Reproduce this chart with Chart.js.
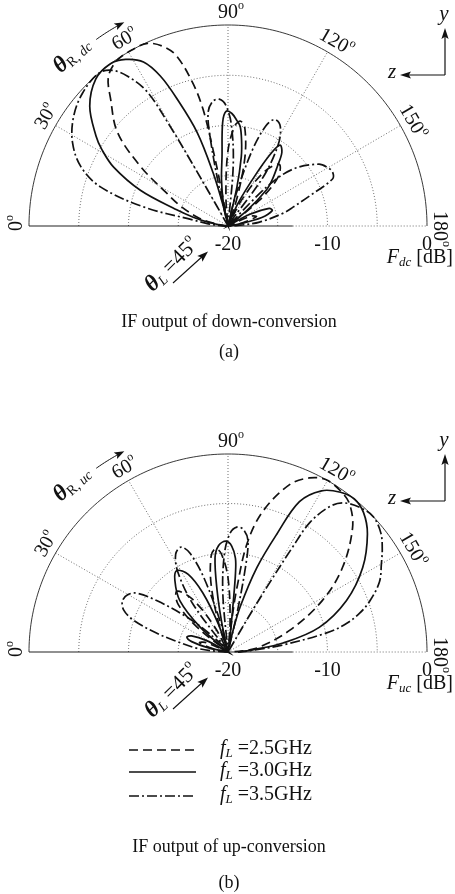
<!DOCTYPE html>
<html>
<head>
<meta charset="utf-8">
<script src="https://cdn.jsdelivr.net/npm/chart.js@4/dist/chart.umd.min.js"></script>
<style>
  html, body { margin: 0; padding: 0; background: #fff; width: 455px; height: 894px; overflow: hidden; }
  canvas { position: absolute; left: 0; }
</style>
</head>
<body>
<canvas id="dc" width="455" height="370" style="top:0px"></canvas>
<canvas id="uc" width="455" height="524" style="top:370px"></canvas>
<script>
// Polar axes: angle in degrees (0° at left, 180° at right), gain in dB (-20 dB at the centre)
const angleTicks = [0, 30, 60, 90, 120, 150, 180];
const gainTicks = [-20, -10, 0];
const ringLevels = [-15, -10, -5, 0];
const freqLabels = ['2.5GHz', '3.0GHz', '3.5GHz'];

// (a) IF output of down-conversion
const dc25Angle = [0, 8, 12, 16, 22, 28, 34, 40, 47, 51, 56, 62, 66, 70, 73, 76, 77.8, 78.8, 79.5, 80.5, 82, 86, 90, 94, 97, 100, 104, 108, 111, 112, 118, 124, 130, 136, 141, 146, 150, 157, 162, 168, 175, 180];
const dc25Gain  = [-20, -19.5, -18, -16.8, -15, -13, -9.4, -5.5, -2.7, -0.9, -0.1, 0, -0.1, -1.0, -2.3, -5.3, -8.1, -12.3, -16, -20, -20, -17, -12.5, -10, -9.5, -10.2, -13, -17, -20, -20, -17, -13.5, -12, -13, -16, -20, -20, -17.5, -17, -18.5, -20, -20];

const dc30Angle = [0, 5, 10.8, 14, 17.4, 22, 27, 31, 34, 40.6, 47.7, 53.8, 58.2, 62.5, 65.5, 68, 71.6, 74.2, 76.5, 78, 79, 82, 85, 87, 89, 92, 95, 97, 99, 101, 103, 105, 110, 114, 118.7, 121, 123, 126.5, 130, 134, 137, 141, 144, 146, 152, 157, 161, 166, 171, 174, 180];
const dc30Gain  = [-20, -19.5, -17.9, -16.4, -14.6, -10.5, -7.1, -5.2, -4.0, -1.7, -0.25, 0, -0.5, -1.6, -3.6, -6.4, -10.2, -14.5, -18, -20, -17.4, -15.3, -13.1, -9.7, -8.6, -8.8, -9.5, -10, -11.3, -13, -16, -20, -20, -17.5, -14, -11.5, -10.4, -10.9, -12.3, -13.6, -14.7, -17.5, -20, -20, -17.5, -15.5, -15.3, -16.5, -19, -20, -20];

const dc35Angle = [0, 4, 7, 9.7, 12.6, 16.9, 21.7, 28, 35, 42, 49.4, 53, 55.9, 58.7, 59.6, 60, 60.5, 61.5, 74, 77, 78.5, 80, 83, 86, 89, 92, 95, 98, 100, 104, 108, 111, 114, 118, 122, 126, 130, 135, 139, 146, 150, 153, 156, 160, 164, 167, 173, 177, 180];
const dc35Gain  = [-20, -19, -17.8, -16.4, -11.3, -6.6, -4.1, -2.3, -1.05, -0.3, 0, -0.6, -2, -4.4, -8.5, -13, -17.8, -20, -20, -16, -11, -8.5, -7.5, -7.35, -8, -10, -14, -20, -20, -17, -12, -9.3, -8.4, -8.8, -10.5, -14, -20, -14.5, -11.4, -9, -8.4, -8.2, -8.5, -11.3, -13.2, -14.3, -16.8, -19, -20];

// (b) IF output of up-conversion
const uc25Angle = [0, 5, 12, 18, 23, 30, 34, 39, 44, 50, 56, 62, 68, 69, 72, 76, 80, 83, 86, 90, 94, 95.5, 96.8, 97.9, 99.9, 103.8, 110.1, 115, 119.6, 125, 129.3, 135, 143.5, 151.3, 160.5, 171, 176, 180];
const uc25Gain  = [-20, -20, -18.5, -17, -17.5, -20, -20, -16, -13, -12, -13.5, -17, -20, -20, -17, -13, -10.2, -9.5, -10, -12.5, -17, -20, -16.5, -13.4, -8.9, -5.4, -2, -0.6, 0, -0.2, -0.7, -2.3, -5.7, -9.2, -13.4, -16.8, -18.5, -20];

const uc30Angle = [0, 8, 12, 16, 20, 24, 28, 33, 38, 42, 47, 53.6, 58, 63, 67, 71, 74, 76, 78, 80, 82.2, 85, 89, 92, 94.5, 95.4, 96, 97, 98, 101, 103, 105, 108.8, 112.4, 115.3, 120, 125, 129.4, 134, 139.6, 147.8, 156.4, 164.8, 170.7, 175, 180];
const uc30Gain  = [-20, -20, -18, -16.2, -15.6, -16, -17.5, -20, -20, -16.2, -12.9, -11, -10.3, -11.2, -13.5, -17, -20, -20, -17, -13.7, -10.4, -9.2, -8.8, -9.3, -10.5, -12, -15, -18, -20, -20, -18, -15.3, -11, -7.1, -3.2, -1.2, -0.3, 0, -0.4, -1.6, -4, -7, -10.5, -14.4, -17.5, -19];

const uc35Angle = [0, 3, 7, 12.3, 15, 18.6, 22, 26, 30, 33, 36, 40.5, 45, 50, 54, 58, 62, 66, 69, 72, 76, 80, 82, 85, 88, 91, 94, 97, 100, 101.5, 103, 106, 119.8, 120.3, 120.8, 121.5, 122.2, 125, 128, 133, 137, 142, 146, 150, 155, 160, 163.5, 166.5, 169, 172.7, 176, 180];
const uc35Gain  = [-20, -19, -16.8, -14.4, -12.5, -10, -8.7, -8.2, -8.4, -9.1, -11.2, -14.6, -17.5, -20, -14, -10.5, -8.8, -8.4, -9.3, -12, -17, -20, -20, -14, -10, -8, -7.35, -7.5, -8.5, -11, -16, -20, -20, -16, -12.4, -7.6, -4.5, -2, -0.9, -0.2, 0, -0.5, -1.3, -2.2, -3.2, -4.8, -6.2, -7.8, -9.9, -14.5, -17.5, -19];

const FLOOR = gainTicks[0];
const RMAX = gainTicks[gainTicks.length - 1] - FLOOR;
const D = Math.PI / 180;
const SERIF = '"Liberation Serif", "Times New Roman", serif';
const INK = '#111';
const lineDashes = [[9, 5], [], [10, 3, 2, 3]];

// (angle, dB) -> cartesian values in the scatter scales (radius = dB above the floor)
function toPoints(angles, gains) {
  return angles.map((a, i) => {
    const r = Math.max(0, gains[i] - FLOOR);
    return { x: -r * Math.cos(a * D), y: r * Math.sin(a * D) };
  });
}

function fontOf(size, style) { return (style || '') + ' ' + size + 'px ' + SERIF; }

// draws a run of differently styled pieces (sub/superscripts) as one label
function drawRich(ctx, x, y, rot, parts, anchor) {
  ctx.save();
  ctx.translate(x, y);
  ctx.rotate(rot * D);
  ctx.textBaseline = 'middle';
  ctx.textAlign = 'left';
  ctx.fillStyle = INK;
  let total = 0;
  const widths = parts.map(p => { ctx.font = fontOf(p.size, p.style); const w = ctx.measureText(p.t).width; total += w; return w; });
  let cx = anchor === 'first' ? -widths[0] / 2 : -total * anchor;
  parts.forEach((p, i) => {
    ctx.font = fontOf(p.size, p.style);
    ctx.fillText(p.t, cx, p.dy || 0);
    cx += widths[i];
  });
  ctx.restore();
}

function arrowHead(ctx, tx, ty, dx, dy, len, half) {
  const n = Math.hypot(dx, dy); dx /= n; dy /= n;
  ctx.beginPath();
  ctx.moveTo(tx, ty);
  ctx.lineTo(tx - dx * len - dy * half, ty - dy * len + dx * half);
  ctx.lineTo(tx - dx * len * 0.8, ty - dy * len * 0.8);
  ctx.lineTo(tx - dx * len + dy * half, ty - dy * len - dx * half);
  ctx.closePath();
  ctx.fill();
}

function polarOf(chart) {
  const xs = chart.scales.x, ys = chart.scales.y;
  return (a, r) => ({ x: xs.getPixelForValue(-r * Math.cos(a * D)), y: ys.getPixelForValue(r * Math.sin(a * D)) });
}

const polarGrid = {
  id: 'polarGrid',
  beforeDatasetsDraw(chart) {
    const ctx = chart.ctx, P = polarOf(chart);
    ctx.save();
    ctx.lineWidth = 0.85;
    ctx.strokeStyle = '#555';
    ctx.setLineDash([1, 2]);
    ringLevels.forEach(g => {
      const r = g - FLOOR;
      if (r >= RMAX) return;
      ctx.beginPath();
      for (let a = 0; a <= 180; a += 2) { const p = P(a, r); if (a === 0) ctx.moveTo(p.x, p.y); else ctx.lineTo(p.x, p.y); }
      ctx.stroke();
    });
    angleTicks.forEach(a => {
      if (a === 0 || a === 180) return;
      const o = P(a, 0), e = P(a, RMAX);
      ctx.beginPath(); ctx.moveTo(o.x, o.y); ctx.lineTo(e.x, e.y); ctx.stroke();
    });
    // right part of the base line is dotted
    const b0 = P(180, 6.5), b1 = P(180, RMAX);
    ctx.beginPath(); ctx.moveTo(b0.x, b0.y); ctx.lineTo(b1.x, b1.y); ctx.stroke();
    ctx.setLineDash([]);
    ctx.strokeStyle = '#222';
    ctx.lineWidth = 0.9;
    ctx.beginPath();
    for (let a = 0; a <= 180; a += 1) { const p = P(a, RMAX); if (a === 0) ctx.moveTo(p.x, p.y); else ctx.lineTo(p.x, p.y); }
    ctx.stroke();
    ctx.lineWidth = 1.1;
    const l0 = P(0, RMAX);
    ctx.beginPath(); ctx.moveTo(l0.x, l0.y); ctx.lineTo(b0.x, b0.y); ctx.stroke();
    ctx.restore();
  }
};

const polarLabels = {
  id: 'polarLabels',
  afterDraw(chart, args, o) {
    const ctx = chart.ctx, P = polarOf(chart);
    const C = P(0, 0);
    ctx.save();
    ctx.fillStyle = INK;
    ctx.strokeStyle = INK;
    // angle labels
    angleTicks.forEach(a => {
      const p = P(a, 21.25);
      drawRich(ctx, p.x, p.y, a - 90, [{ t: String(a), size: 20 }, { t: 'o', size: 12, dy: -7 }], 'first');
    });
    // gain labels along the base line
    gainTicks.forEach(g => {
      const p = P(180, g - FLOOR);
      drawRich(ctx, p.x, C.y + 19, 0, [{ t: String(g), size: 20 }], 0.5);
    });
    // F [dB]
    drawRich(ctx, 453, C.y + 32, 0, [
      { t: 'F', style: 'italic', size: 20 },
      { t: o.sub, style: 'italic', size: 13, dy: 5 },
      { t: ' [dB]', size: 20 }
    ], 1);
    // theta_R label with arc arrow
    const tp = P(47.3, 23.1);
    drawRich(ctx, tp.x, tp.y, -42.5, [
      { t: 'θ', style: 'bold italic', size: 23 },
      { t: 'R', size: 14, dy: 5 },
      { t: ', ', size: 14, dy: 5 },
      { t: o.sub, style: 'italic', size: 14, dy: 5 }
    ], 0.5);
    ctx.lineWidth = 1;
    ctx.beginPath();
    for (let a = 54.5; a <= 61.01; a += 0.5) { const p = P(a, 22.8); if (a === 54.5) ctx.moveTo(p.x, p.y); else ctx.lineTo(p.x, p.y); }
    ctx.stroke();
    const tip = P(62.8, 22.8);
    arrowHead(ctx, tip.x, tip.y, Math.sin(62.8 * D), -Math.cos(62.8 * D), 10, 3.6);
    // theta_L = 45 deg arrow
    drawRich(ctx, C.x - 56, C.y + 39, -45, [
      { t: 'θ', style: 'bold italic', size: 23 },
      { t: 'L', style: 'italic', size: 14, dy: 5 },
      { t: ' =45', size: 22 },
      { t: 'o', size: 13, dy: -8 }
    ], 0.5);
    ctx.lineWidth = 1.1;
    ctx.beginPath(); ctx.moveTo(C.x - 55, C.y + 57); ctx.lineTo(C.x - 24, C.y + 29); ctx.stroke();
    arrowHead(ctx, C.x - 20, C.y + 25.5, 34, -31, 11, 3.8);
    // y / z axes
    const K = { x: C.x + 217, y: C.y - 151 };
    ctx.lineWidth = 1.2;
    ctx.beginPath(); ctx.moveTo(K.x, K.y); ctx.lineTo(K.x, K.y - 40); ctx.stroke();
    arrowHead(ctx, K.x, K.y - 47, 0, -1, 11, 3.6);
    ctx.beginPath(); ctx.moveTo(K.x, K.y); ctx.lineTo(K.x - 38, K.y); ctx.stroke();
    arrowHead(ctx, K.x - 45, K.y, -1, 0, 11, 3.6);
    drawRich(ctx, K.x - 1, K.y - 61, 0, [{ t: 'y', style: 'italic', size: 21 }], 0.5);
    drawRich(ctx, K.x - 53, K.y - 3, 0, [{ t: 'z', style: 'italic', size: 21 }], 0.5);
    // legend
    if (o.legend) {
      const rows = [C.y + 98, C.y + 120, C.y + 144];
      chart.data.datasets.forEach((ds, i) => {
        ctx.lineWidth = 1.6;
        ctx.setLineDash(ds.borderDash || []);
        ctx.beginPath(); ctx.moveTo(129, rows[i]); ctx.lineTo(196, rows[i]); ctx.stroke();
        ctx.setLineDash([]);
        drawRich(ctx, 220, rows[i] - 1, 0, [
          { t: 'f', style: 'italic', size: 20 },
          { t: 'L', style: 'italic', size: 13, dy: 5 },
          { t: ' =' + ds.label, size: 20 }
        ], 0);
      });
    }
    // captions
    drawRich(ctx, 229, C.y + o.captionDy, 0, [{ t: o.caption, size: 18 }], 0.5);
    drawRich(ctx, 229, C.y + o.letterDy, 0, [{ t: o.letter, size: 18 }], 0.5);
    ctx.restore();
  }
};

function makeChart(id, series, padTop, padBottom, labelOpts) {
  const ctx = document.getElementById(id);
  return new Chart(ctx, {
    type: 'scatter',
    data: {
      datasets: series.map((s, i) => ({
        label: freqLabels[i],
        data: toPoints(s[0], s[1]),
        showLine: true,
        borderColor: INK,
        borderWidth: 1.7,
        borderDash: lineDashes[i],
        pointRadius: 0,
        tension: 0.35,
        fill: false,
        clip: 8
      }))
    },
    options: {
      responsive: false,
      devicePixelRatio: 1,
      animation: false,
      events: [],
      layout: { padding: { left: 29, right: 28, top: padTop, bottom: padBottom } },
      scales: {
        x: { type: 'linear', min: -RMAX, max: RMAX, display: false },
        y: { type: 'linear', min: 0, max: RMAX, display: false }
      },
      plugins: {
        legend: { display: false },
        tooltip: { enabled: false },
        polarLabels: labelOpts
      }
    },
    plugins: [polarGrid, polarLabels]
  });
}

makeChart('dc', [[dc25Angle, dc25Gain], [dc30Angle, dc30Gain], [dc35Angle, dc35Gain]], 25, 144, {
  sub: 'dc', legend: false, caption: 'IF output of down-conversion', letter: '(a)', captionDy: 96, letterDy: 126
});
makeChart('uc', [[uc25Angle, uc25Gain], [uc30Angle, uc30Gain], [uc35Angle, uc35Gain]], 84, 242, {
  sub: 'uc', legend: true, caption: 'IF output of up-conversion', letter: '(b)', captionDy: 195, letterDy: 231
});
</script>
</body>
</html>
